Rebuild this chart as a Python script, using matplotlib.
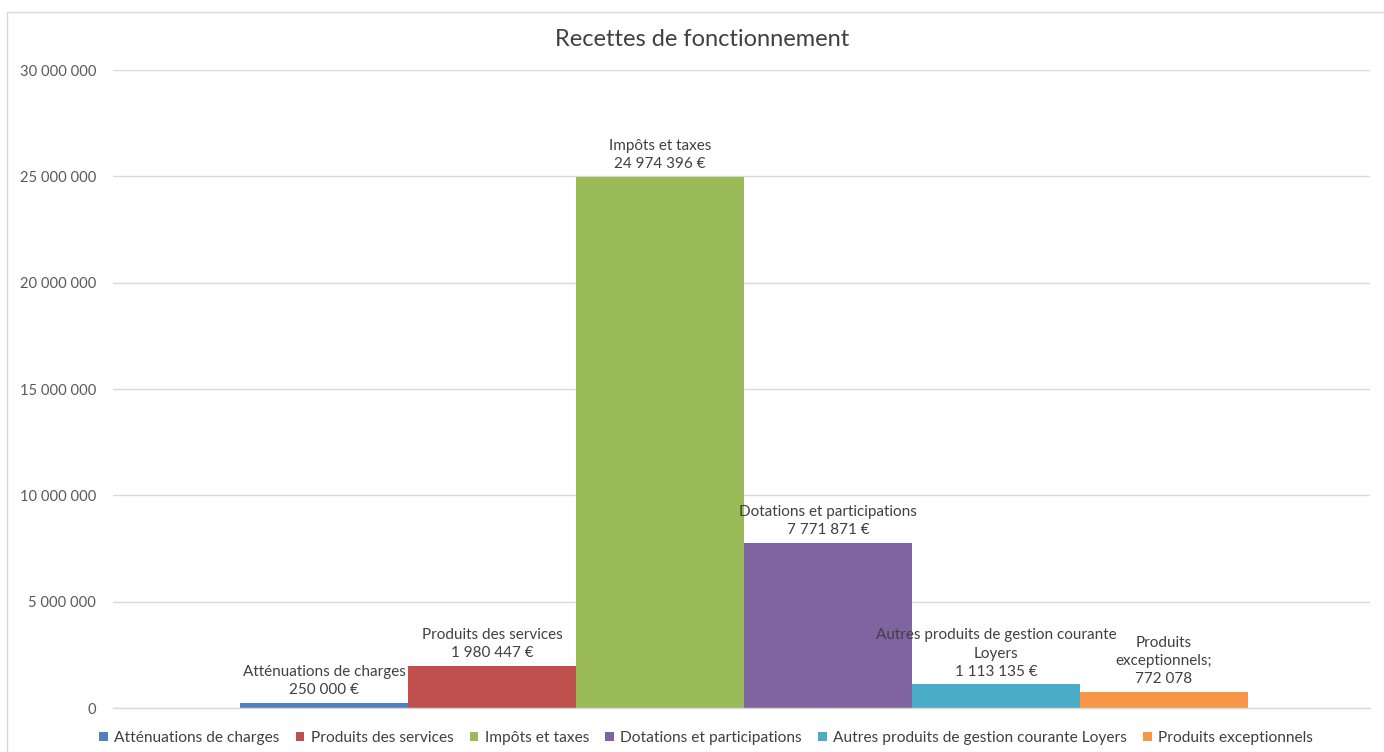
import matplotlib
matplotlib.use("Agg")
import matplotlib.pyplot as plt
from matplotlib.patches import Rectangle
from matplotlib.ticker import FuncFormatter, MultipleLocator

plt.rcParams['font.family'] = ['Lato', 'DejaVu Sans']

series = ["Atténuations de charges", "Produits des services", "Impôts et taxes",
          "Dotations et participations", "Autres produits de gestion courante Loyers",
          "Produits exceptionnels"]
values = [250000, 1980447, 24974396, 7771871, 1113135, 772078]
labels = ["Atténuations de charges\n250 000 €", "Produits des services\n1 980 447 €",
          "Impôts et taxes\n24 974 396 €", "Dotations et participations\n7 771 871 €",
          "Autres produits de gestion courante\nLoyers\n1 113 135 €",
          "Produits\nexceptionnels;\n772 078"]
colors = ["#4F81BD", "#C0504D", "#9BBB59", "#8064A2", "#4BACC6", "#F79646"]
title = "Recettes de fonctionnement"

fig = plt.figure(figsize=(13.84, 7.52), dpi=100)
fig.patches.append(Rectangle((7/1384, -0.01), 1.0, 1 - 12/752 + 0.01, transform=fig.transFigure,
                             fill=False, edgecolor="#d9d9d9", linewidth=1))
ax = fig.add_axes([113/1384, 1 - 708/752, (1370 - 113)/1384, (708 - 70)/752])

w = 168 / 1257
n = len(values)
shift = 2.5 / 1257
for i, (s, v, c, lab) in enumerate(zip(series, values, colors, labels)):
    x = (i - (n - 1) / 2) * w + shift
    ax.bar(x, v, width=w, color=c, label=s, zorder=2)
    ax.annotate(lab, (x, v), xytext=(0, 4), textcoords="offset points",
                ha="center", va="bottom", fontsize=11, color="#404040",
                linespacing=1.38, zorder=3)

ax.set_xlim(-0.5, 0.5)
ax.set_ylim(0, 30000000)
ax.yaxis.set_major_locator(MultipleLocator(5000000))
ax.yaxis.set_major_formatter(FuncFormatter(lambda v, p: f"{int(v):,}".replace(",", " ")))
ax.tick_params(axis="y", length=0, pad=12, labelsize=10.6, labelcolor="#595959")
ax.set_xticks([])
ax.grid(axis="y", color="#d9d9d9", linewidth=1, zorder=0)
for sp in ["top", "right", "left"]:
    ax.spines[sp].set_visible(False)
ax.spines["bottom"].set_color("#d9d9d9")
ax.spines["bottom"].set_linewidth(1)

fig.text(702/1384, 1 - 40/752, title, ha="center", va="center", fontsize=17, color="#404040")

leg = fig.legend(loc="center", bbox_to_anchor=(706/1384, 1 - 738/752), ncol=6, frameon=False,
                 fontsize=11.2, handlelength=0.55, handleheight=0.55, handletextpad=0.4,
                 columnspacing=1.05, labelcolor="#404040")

fig.savefig("out.png", dpi=100)
